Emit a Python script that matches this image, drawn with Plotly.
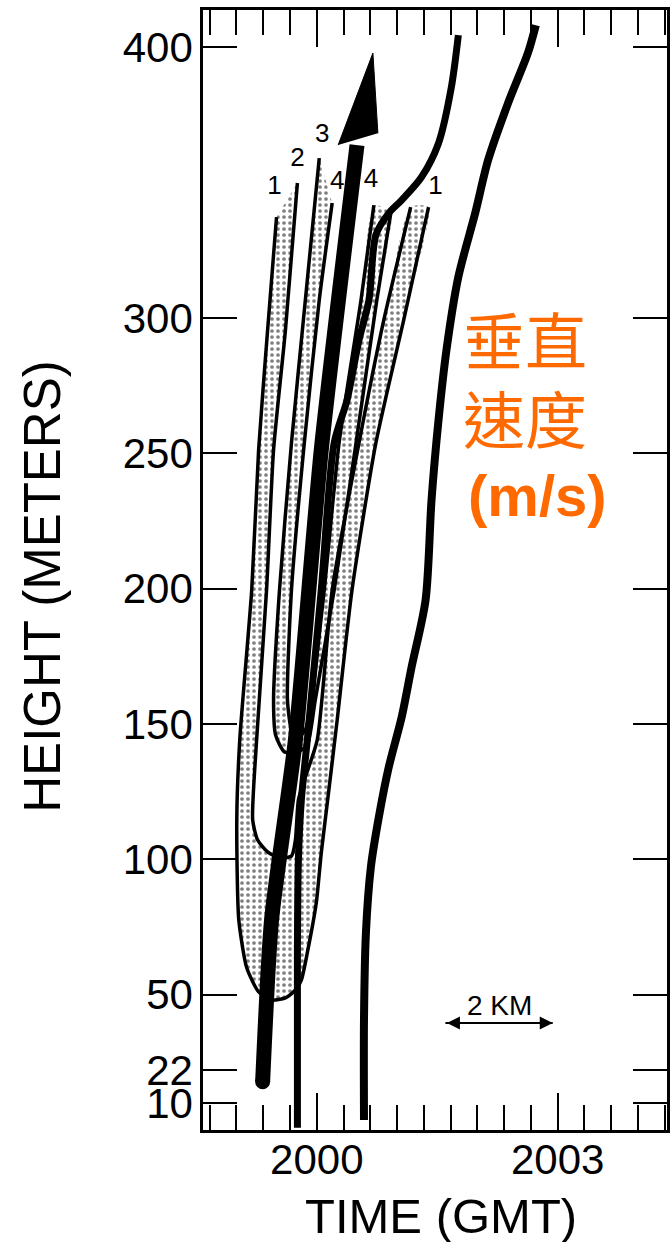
import plotly.graph_objects as go

# ---- data: time in minutes after 2000 GMT, height in metres ----
# contour 1 (outer U of the stippled 1-2 band)
C1_T = [-0.501, -0.612, -0.724, -0.810, -0.959, -0.996, -0.971, -0.872, -0.724, -0.563, -0.390, -0.266,
        -0.192, -0.118, -0.006, 0.056, 0.155, 0.254, 0.439, 0.736, 1.083, 1.392]
C1_H = [337.2, 295.5, 251.2, 199.5, 144.1, 114.5, 77.6, 59.9, 51.0, 48.0, 48.8, 51.7,
        55.4, 65.4, 83.9, 102.3, 126.7, 151.4, 199.5, 253.8, 299.2, 340.9]
# contour 2 (inner U of the 1-2 band), from right top to left top
C2_T = [1.169, 0.835, 0.526, 0.192, 0.006, -0.155, -0.229, -0.266, -0.315, -0.464, -0.612, -0.736,
        -0.798, -0.749, -0.625, -0.538, -0.390, -0.241]
C2_H = [340.9, 299.2, 253.8, 199.5, 144.1, 129.3, 121.9, 107.1, 101.2, 100.5, 102.7, 107.1,
        114.5, 144.1, 199.5, 251.2, 295.5, 349.8]
# contour 3 (outer U of the 3-4 band)
C3_T = [0.031, -0.142, -0.315, -0.464, -0.538, -0.513, -0.402, -0.241, -0.118, -0.019, 0.217, 0.489, 0.748, 0.922]
C3_H = [359.0, 306.6, 253.8, 199.5, 158.8, 145.9, 139.6, 139.6, 142.2, 158.8, 199.5, 253.8, 306.6, 338.7]
# contour 4 (inner U of the 3-4 band), from right top to left top
C4_T = [0.711, 0.551, 0.278, 0.093, -0.068, -0.142, -0.241, -0.315, -0.365, -0.315, -0.155, 0.031, 0.192]
C4_H = [341.6, 306.6, 253.8, 199.5, 158.8, 147.8, 144.8, 147.8, 158.8, 199.5, 253.8, 306.6, 342.4]
# contour labels
LABEL_TXT = ["1", "2", "3", "4", "4", "1"]
LABEL_T = [-0.526, -0.241, 0.068, 0.254, 0.674, 1.478]
LABEL_H = [348.3, 358.3, 367.5, 349.8, 350.9, 348.0]
# thick arrow (shaft and head)
ARROW_T = [-0.674, -0.563, -0.266, 0.056, 0.501]
ARROW_H = [17.8, 77.6, 144.1, 251.2, 363.8]
HEAD_T = [0.266, 0.699, 0.761]
HEAD_H = [363.8, 397.8, 368.2]
# curve B (middle thick curve)
CB_T = [1.763, 1.676, 1.516, 1.305, 1.058, 0.897, 0.736, 0.650, 0.526, 0.377, 0.217, 0.056,
        -0.118, -0.192, -0.229, -0.241, -0.241]
CB_H = [404.4, 385.2, 364.5, 352.0, 343.5, 338.7, 330.6, 306.6, 291.8, 269.6, 253.8, 199.5,
        144.1, 121.9, 99.7, 66.5, 0.8]
# curve A (right thick curve)
CA_T = [2.728, 2.629, 2.382, 2.134, 1.973, 1.763, 1.615, 1.516, 1.429, 1.355, 1.181, 1.058,
        0.897, 0.773, 0.674, 0.612, 0.588, 0.588]
CA_H = [408.1, 397.8, 379.3, 358.3, 338.7, 315.1, 288.1, 262.2, 232.7, 195.8, 171.0, 152.6,
        134.1, 115.6, 97.2, 72.8, 40.7, 3.7]
# scale bar (2 km)
SCALE_T = [1.602, 2.938]
SCALE_H = [39.5, 39.5]
# axes
X_TICKVALS = [0, 3]
X_TICKTEXT = ["2000", "2003"]
Y_TICKVALS = [10, 22, 50, 100, 150, 200, 250, 300, 400]

STIPPLE = dict(shape=".", size=6, solidity=0.3, fgcolor="black", bgcolor="white")
SANS = "Liberation Sans, Arial, sans-serif"

fig = go.Figure()

# stippled bands
fig.add_trace(go.Scatter(x=C1_T + C2_T, y=C1_H + C2_H, mode="lines", fill="toself",
                         fillcolor="white", fillpattern=STIPPLE,
                         line=dict(width=0, shape="spline", smoothing=0.6), hoverinfo="skip"))
fig.add_trace(go.Scatter(x=C3_T + C4_T, y=C3_H + C4_H, mode="lines", fill="toself",
                         fillcolor="white", fillpattern=STIPPLE,
                         line=dict(width=0, shape="spline", smoothing=0.6), hoverinfo="skip"))
# contour lines
for tt, hh in [(C1_T, C1_H), (C2_T, C2_H), (C3_T, C3_H), (C4_T, C4_H)]:
    fig.add_trace(go.Scatter(x=tt, y=hh, mode="lines",
                             line=dict(color="black", width=3.5, shape="spline", smoothing=0.6),
                             hoverinfo="skip"))
# thick curves
fig.add_trace(go.Scatter(x=CB_T, y=CB_H, mode="lines",
                         line=dict(color="black", width=7, shape="spline", smoothing=0.8)))
fig.add_trace(go.Scatter(x=CA_T, y=CA_H, mode="lines",
                         line=dict(color="black", width=8, shape="spline", smoothing=0.8)))
# arrow
fig.add_trace(go.Scatter(x=ARROW_T, y=ARROW_H, mode="lines",
                         line=dict(color="black", width=15, shape="spline", smoothing=0.6)))
fig.add_trace(go.Scatter(x=ARROW_T[:1], y=ARROW_H[:1], mode="markers",
                         marker=dict(color="black", size=15)))
fig.add_trace(go.Scatter(x=HEAD_T, y=HEAD_H, mode="lines", fill="toself", fillcolor="black",
                         line=dict(color="black", width=1)))
# contour labels
fig.add_trace(go.Scatter(x=LABEL_T, y=LABEL_H, mode="text", text=LABEL_TXT,
                         textfont=dict(family=SANS, size=26, color="black")))
# scale bar
fig.add_trace(go.Scatter(x=SCALE_T, y=SCALE_H, mode="lines", line=dict(color="black", width=2)))
fig.add_annotation(x=SCALE_T[1], y=SCALE_H[1], ax=SCALE_T[0], ay=SCALE_H[0], axref="x", ayref="y",
                   xref="x", yref="y", showarrow=True, arrowside="end+start", arrowhead=2,
                   arrowsize=1.3, arrowwidth=2, arrowcolor="black", text="")
fig.add_annotation(x=(SCALE_T[0] + SCALE_T[1]) / 2, y=46.0, xref="x", yref="y", text="2 KM",
                   showarrow=False, font=dict(family=SANS, size=28, color="black"))

# orange annotation
ORANGE = "#FF6A00"
CJK = "Noto Sans CJK TC, Noto Sans CJK SC, sans-serif"
fig.add_annotation(x=2.592, y=292.5, xref="x", yref="y", text="垂直", showarrow=False,
                   font=dict(family=CJK, size=62, color=ORANGE))
fig.add_annotation(x=2.592, y=263.4, xref="x", yref="y", text="速度", showarrow=False,
                   font=dict(family=CJK, size=62, color=ORANGE))
fig.add_annotation(x=2.753, y=234.5, xref="x", yref="y", text="<b>(m/s)</b>", showarrow=False,
                   font=dict(family=SANS, size=58, color=ORANGE))

# axis titles
fig.add_annotation(x=-0.345, y=0.485, xref="paper", yref="paper", text="HEIGHT (METERS)",
                   textangle=-90, showarrow=False, xanchor="center", yanchor="middle",
                   font=dict(family=SANS, size=51, color="black"))
fig.add_annotation(x=0.512, y=-0.0768, xref="paper", yref="paper", text="TIME (GMT)",
                   showarrow=False, xanchor="center", yanchor="middle",
                   font=dict(family=SANS, size=49, color="black"))

fig.update_layout(
    width=671, height=1242,
    margin=dict(l=203, r=1, t=10, b=112),
    paper_bgcolor="white", plot_bgcolor="white",
    showlegend=False,
    xaxis=dict(range=[-1.4166, 4.361], tickmode="array", tickvals=X_TICKVALS, ticktext=X_TICKTEXT,
               ticks="inside", ticklen=37, tickwidth=2, tickcolor="black",
               showline=True, linewidth=2.5, linecolor="black", mirror="ticks",
               showgrid=False, zeroline=False, ticklabelstandoff=-9,
               tickfont=dict(family=SANS, size=42, color="black"),
               minor=dict(tickmode="linear", tick0=0, dtick=1 / 3, ticks="inside", ticklen=25,
                          tickwidth=2, tickcolor="black", showgrid=False)),
    yaxis=dict(range=[0, 413.7], tickmode="array", tickvals=Y_TICKVALS,
               ticks="inside", ticklen=34, tickwidth=2, tickcolor="black",
               showline=True, linewidth=2.5, linecolor="black", mirror="ticks",
               showgrid=False, zeroline=False, ticklabelstandoff=-1,
               tickfont=dict(family=SANS, size=42, color="black")),
)

fig.write_html("out.html")
